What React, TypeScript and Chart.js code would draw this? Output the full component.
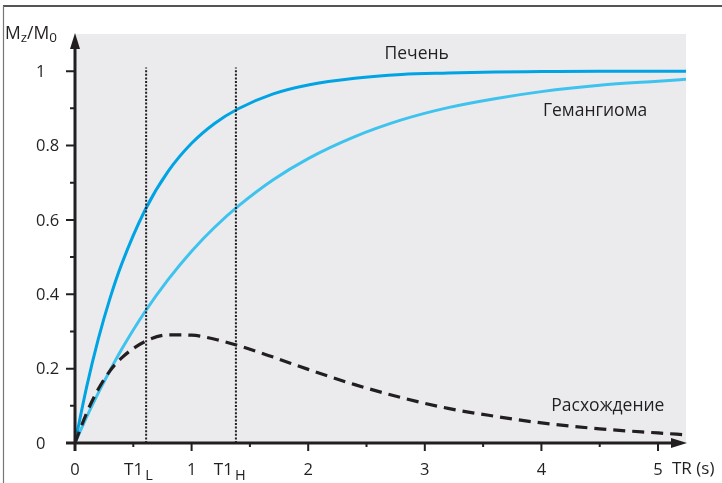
import { useEffect, useRef } from 'react';
import { Chart, registerables } from 'chart.js';

Chart.register(...registerables);

// ---- data ----
const trValues = [0, 0.1, 0.2, 0.3, 0.4, 0.6, 0.8, 1.0, 1.2, 1.4, 1.7, 2.0, 2.4, 2.8, 3.2, 3.6, 4.0, 4.5, 5.0, 5.24];
const liverValues = [0, 0.151, 0.28, 0.389, 0.481, 0.626, 0.731, 0.806, 0.86, 0.899, 0.939, 0.963, 0.981, 0.991, 0.995, 0.998, 0.999, 1.0, 1.0, 1.0];
const hemangiomaValues = [0, 0.07, 0.135, 0.195, 0.252, 0.353, 0.44, 0.516, 0.581, 0.637, 0.708, 0.765, 0.824, 0.869, 0.902, 0.926, 0.945, 0.962, 0.973, 0.978];
const differenceValues = [0, 0.081, 0.145, 0.194, 0.229, 0.273, 0.291, 0.29, 0.279, 0.262, 0.231, 0.198, 0.157, 0.122, 0.093, 0.072, 0.054, 0.038, 0.027, 0.022];

const t1Values = [0.61, 1.38];
const t1Subscripts = ['L', 'H'];
const t1LineTop = 1.01;

const yTickValues = [0, 0.2, 0.4, 0.6, 0.8, 1];
const yTickLabels = ['0', '0.2', '0.4', '0.6', '0.8', '1'];
const yMinorValues = [0.1, 0.3, 0.5, 0.7, 0.9];
const xTickValues = [0, 1, 2, 3, 4, 5];
const xTickLabels = ['0', '1', '2', '3', '4', '5'];
const xMinorValues = [0.5, 1.5, 2.5, 3.5, 4.5];

const seriesNames = ['Печень', 'Гемангиома', 'Расхождение'];

// ---- layout / style ----
const X_MAX = 5.24;
const Y_MAX = 1.1;
const FONT = '"Open Sans", "Noto Sans", sans-serif';
const INK = '#231f20';
const nameAnchors = [
  { x: 2.93, y: 1.045 },
  { x: 4.46, y: 0.892 },
  { x: 4.57, y: 0.099 },
];

const toPoints = (ys: number[]) => trValues.map((x, i) => ({ x, y: ys[i] }));

const decorPlugin = {
  id: 'decor',
  beforeDraw(chart: any) {
    const { ctx, chartArea } = chart;
    ctx.save();
    ctx.fillStyle = '#ffffff';
    ctx.fillRect(0, 0, chart.width, chart.height);
    ctx.fillStyle = '#ebebed';
    ctx.fillRect(chartArea.left, chartArea.top, chartArea.right - chartArea.left, chartArea.bottom - chartArea.top);
    ctx.restore();
  },
  afterDraw(chart: any) {
    const { ctx, chartArea } = chart;
    const xs = chart.scales.x;
    const ys = chart.scales.y;
    const x0 = xs.getPixelForValue(0);
    const y0 = ys.getPixelForValue(0);
    ctx.save();

    // frame
    ctx.strokeStyle = '#555';
    ctx.lineWidth = 2;
    ctx.beginPath();
    ctx.moveTo(3, 6);
    ctx.lineTo(chart.width, 6);
    ctx.stroke();
    ctx.strokeStyle = '#777';
    ctx.lineWidth = 1.2;
    ctx.beginPath();
    ctx.moveTo(3.5, 6);
    ctx.lineTo(3.5, chart.height);
    ctx.stroke();

    // axes
    ctx.strokeStyle = INK;
    ctx.fillStyle = INK;
    ctx.lineWidth = 3;
    ctx.lineCap = 'butt';
    ctx.beginPath();
    ctx.moveTo(x0, y0 + 8);
    ctx.lineTo(x0, chartArea.top + 10);
    ctx.moveTo(x0 - 9, y0);
    ctx.lineTo(chartArea.right - 10, y0);
    ctx.stroke();
    // arrowheads
    ctx.beginPath();
    ctx.moveTo(x0, chartArea.top - 1);
    ctx.lineTo(x0 - 5, chartArea.top + 15);
    ctx.lineTo(x0 + 5, chartArea.top + 15);
    ctx.closePath();
    ctx.fill();
    ctx.beginPath();
    ctx.moveTo(chartArea.right + 1, y0);
    ctx.lineTo(chartArea.right - 15, y0 - 5);
    ctx.lineTo(chartArea.right - 15, y0 + 5);
    ctx.closePath();
    ctx.fill();

    // ticks
    ctx.lineWidth = 2;
    ctx.beginPath();
    yTickValues.forEach((v) => {
      const p = ys.getPixelForValue(v);
      ctx.moveTo(x0 - 9, p);
      ctx.lineTo(x0, p);
    });
    yMinorValues.forEach((v) => {
      const p = ys.getPixelForValue(v);
      ctx.moveTo(x0 - 5, p);
      ctx.lineTo(x0, p);
    });
    xTickValues.forEach((v) => {
      const p = xs.getPixelForValue(v);
      ctx.moveTo(p, y0);
      ctx.lineTo(p, y0 + 8);
    });
    xMinorValues.forEach((v) => {
      const p = xs.getPixelForValue(v);
      ctx.moveTo(p, y0);
      ctx.lineTo(p, y0 + 4);
    });
    ctx.stroke();

    // tick labels
    ctx.font = `16.5px ${FONT}`;
    ctx.textBaseline = 'middle';
    ctx.textAlign = 'left';
    yTickValues.forEach((v, i) => {
      ctx.fillText(yTickLabels[i], 36, ys.getPixelForValue(v) + 1);
    });
    ctx.textAlign = 'center';
    ctx.textBaseline = 'alphabetic';
    xTickValues.forEach((v, i) => {
      ctx.fillText(xTickLabels[i], xs.getPixelForValue(v), y0 + 32);
    });
    // T1 labels
    t1Values.forEach((v, i) => {
      const p = xs.getPixelForValue(v);
      ctx.font = `17px ${FONT}`;
      ctx.textAlign = 'right';
      ctx.fillText('T1', p - 3, y0 + 32);
      ctx.font = `14.5px ${FONT}`;
      ctx.textAlign = 'left';
      ctx.fillText(t1Subscripts[i], p - 1, y0 + 37);
    });
    // x axis title
    ctx.font = `17px ${FONT}`;
    ctx.textAlign = 'left';
    ctx.fillText('TR (s)', chartArea.right - 14, y0 + 31);

    // y axis title M_z/M_0
    let cx = 5;
    const base = 39;
    const seg = (t: string, size: number, dy: number) => {
      ctx.font = `${size}px ${FONT}`;
      ctx.fillText(t, cx, base + dy);
      cx += ctx.measureText(t).width;
    };
    seg('M', 17.5, 0);
    seg('z', 13.5, 3);
    seg('/M', 17.5, 0);
    seg('0', 13.5, 3);

    // series names
    ctx.font = `17.5px ${FONT}`;
    ctx.textAlign = 'center';
    ctx.textBaseline = 'middle';
    seriesNames.forEach((n, i) => {
      ctx.fillText(n, xs.getPixelForValue(nameAnchors[i].x), ys.getPixelForValue(nameAnchors[i].y));
    });

    ctx.restore();
  },
};

export default function App() {
  const ref = useRef<HTMLCanvasElement | null>(null);
  useEffect(() => {
    document.body.style.margin = '0';
    const canvas = ref.current;
    if (!canvas) return;
    const chart = new Chart(canvas, {
      type: 'line',
      data: {
        datasets: [
          {
            label: 'T1L',
            data: [{ x: t1Values[0], y: 0 }, { x: t1Values[0], y: t1LineTop }],
            borderColor: INK,
            borderWidth: 2,
            borderDash: [2, 1.6],
            pointRadius: 0,
          },
          {
            label: 'T1H',
            data: [{ x: t1Values[1], y: 0 }, { x: t1Values[1], y: t1LineTop }],
            borderColor: INK,
            borderWidth: 2,
            borderDash: [2, 1.6],
            pointRadius: 0,
          },
          {
            label: seriesNames[2],
            data: toPoints(differenceValues),
            borderColor: INK,
            borderWidth: 3.2,
            borderDash: [12, 7],
            pointRadius: 0,
            cubicInterpolationMode: 'monotone',
          },
          {
            label: seriesNames[1],
            data: toPoints(hemangiomaValues),
            borderColor: '#3ec3ef',
            borderWidth: 3,
            pointRadius: 0,
            cubicInterpolationMode: 'monotone',
          },
          {
            label: seriesNames[0],
            data: toPoints(liverValues),
            borderColor: '#00a3e4',
            borderWidth: 3,
            pointRadius: 0,
            cubicInterpolationMode: 'monotone',
          },
        ],
      },
      options: {
        responsive: false,
        animation: false,
        devicePixelRatio: 1,
        layout: { padding: { left: 75, right: 36, top: 34, bottom: 40 } },
        plugins: { legend: { display: false }, tooltip: { enabled: false } },
        scales: {
          x: { type: 'linear', min: 0, max: X_MAX, display: false },
          y: { type: 'linear', min: 0, max: Y_MAX, display: false },
        },
      } as any,
      plugins: [decorPlugin],
    });
    return () => chart.destroy();
  }, []);
  return (
    <div style={{ position: 'absolute', left: 0, top: 0, width: 722, height: 483 }}>
      <canvas ref={ref} width={722} height={483} style={{ display: 'block' }} />
    </div>
  );
}
